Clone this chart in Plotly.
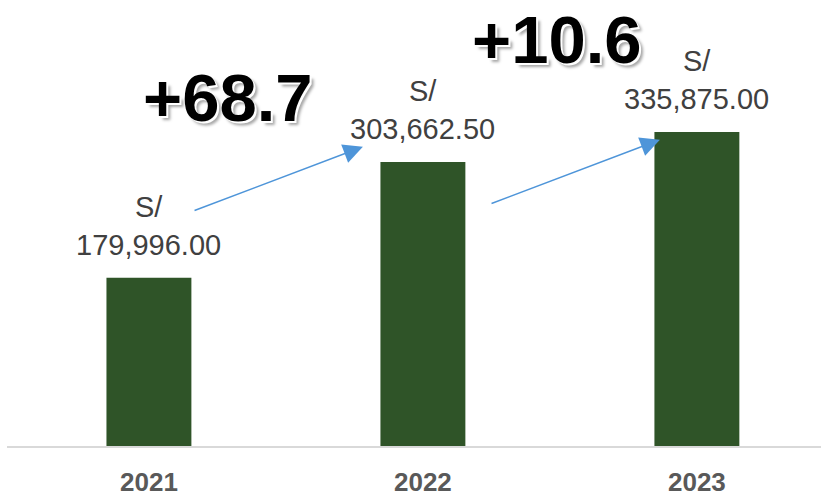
import plotly.graph_objects as go

years = ["2021", "2022", "2023"]
ventas = [179996.00, 303662.50, 335875.00]
crecimiento = ["+68.7", "+10.6"]

BAR = "#2F5428"
ARROW = "#4E95D9"
FONT = "Liberation Sans, Arial, sans-serif"

xs = list(range(len(years)))

fig = go.Figure()
fig.add_trace(go.Bar(
    x=xs, y=ventas,
    marker=dict(color=BAR, line=dict(width=0)),
    width=0.31,
    hoverinfo="skip",
))

ann = []
# data labels above each bar
for x, v in zip(xs, ventas):
    ann.append(dict(
        x=x, y=v, xref="x", yref="y",
        text="S/<br>{:,.2f}".format(v),
        showarrow=False, yanchor="bottom", yshift=15,
        font=dict(family=FONT, size=29, color="#404040"),
    ))

# growth arrows (tail -> head, in data units)
arrows = [
    ((0.161, 251300), (0.781, 320100)),
    ((1.245, 258800), (1.865, 327600)),
]
for (tx, ty), (hx, hy) in arrows:
    ann.append(dict(
        x=hx, y=hy, ax=tx, ay=ty,
        xref="x", yref="y", axref="x", ayref="y",
        text="", showarrow=True,
        arrowhead=2, arrowsize=2.6, arrowwidth=1.5, arrowcolor=ARROW,
        standoff=0, startstandoff=0,
    ))

# big growth labels
for (px, py), t in zip([(0.289, 372700), (1.491, 435000)], crecimiento):
    ann.append(dict(
        x=px, y=py, xref="x", yref="y",
        text="<b>%s</b>" % t, showarrow=False,
        font=dict(family=FONT, size=67, color="black",
                  shadow="2px 2px 0px #ffffff, 4px 4px 3px #a6a6a6"),
    ))

fig.update_layout(
    width=821, height=497,
    margin=dict(l=7, r=0, t=0, b=44),
    plot_bgcolor="white", paper_bgcolor="white",
    showlegend=False,
    annotations=ann,
    xaxis=dict(
        range=[-0.518, 2.453],
        tickvals=xs, ticktext=years,
        tickfont=dict(family=FONT, size=26, color="#595959", weight="bold"),
        ticks="outside", ticklen=12, tickcolor="rgba(0,0,0,0)",
        showline=True, linecolor="#D9D9D9", linewidth=2,
        showgrid=False, zeroline=False,
    ),
    yaxis=dict(
        range=[0, 477000],
        visible=False, showgrid=False, zeroline=False,
    ),
)

fig.write_html("out.html", config={"displayModeBar": False},
               post_script="document.body.style.margin='0';")
